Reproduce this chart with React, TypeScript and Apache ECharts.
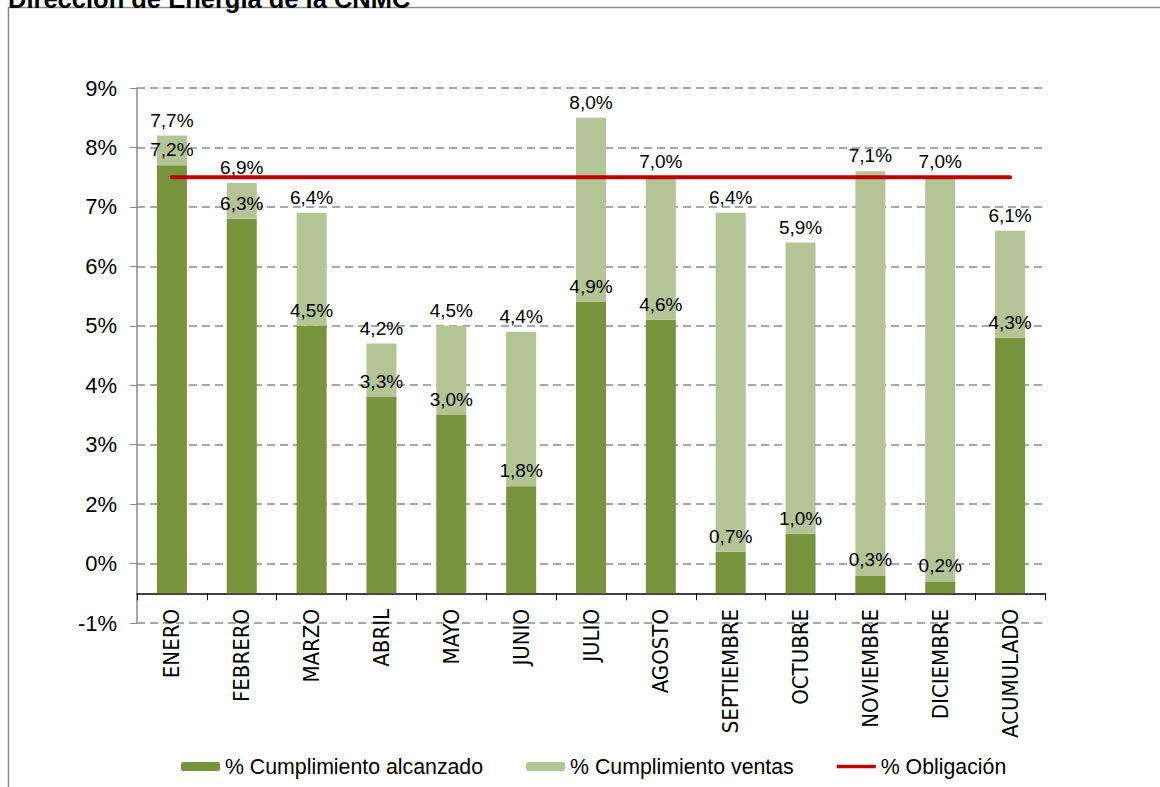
import React, { useEffect, useRef } from "react";
import * as echarts from "echarts";

const categories = ["ENERO", "FEBRERO", "MARZO", "ABRIL", "MAYO", "JUNIO", "JULIO", "AGOSTO", "SEPTIEMBRE", "OCTUBRE", "NOVIEMBRE", "DICIEMBRE", "ACUMULADO"];
const alcanzado = [7.2, 6.3, 4.5, 3.3, 3.0, 1.8, 4.9, 4.6, 0.7, 1.0, 0.3, 0.2, 4.3];
const ventasTotal = [7.7, 6.9, 6.4, 4.2, 4.5, 4.4, 8.0, 7.0, 6.4, 5.9, 7.1, 7.0, 6.1];
const obligacion = [7.0, 7.0, 7.0, 7.0, 7.0, 7.0, 7.0, 7.0, 7.0, 7.0, 7.0, 7.0, 7.0];
const yTickLabels = ["-1%", "0%", "2%", "3%", "4%", "5%", "6%", "7%", "8%", "9%"];

const FONT = "Arial, 'Liberation Sans', sans-serif";
const NARROW = "'Liberation Sans Narrow', 'Arial Narrow', 'DejaVu Sans Condensed', Arial, sans-serif";
const fmt = (v: number) => v.toFixed(1).replace(".", ",") + "%";

export default function App() {
  const ref = useRef<HTMLDivElement>(null);
  useEffect(() => {
    if (!ref.current) return;
    const chart = echarts.init(ref.current, null, { renderer: "svg" });
    const ventasExtra = ventasTotal.map((t, i) => +(t - alcanzado[i]).toFixed(2));
    chart.setOption({
      animation: false,
      backgroundColor: "#ffffff",
      textStyle: { fontFamily: FONT },
      graphic: [
        {
          type: "rect",
          shape: { x: 8.5, y: 7.5, width: 1200, height: 900 },
          style: { fill: "none", stroke: "#8c8c8c", lineWidth: 1.5 },
          silent: true,
        },
        {
          type: "text",
          x: 8,
          y: 12,
          style: {
            text: "Dirección de Energía de la CNMC",
            font: "bold 25.5px " + FONT,
            fill: "#000",
            verticalAlign: "bottom",
          },
        },
      ],
      grid: { left: 137, right: 115, top: 88, bottom: 164 },
      legend: {
        left: 176,
        top: 751,
        itemWidth: 39,
        itemHeight: 9,
        itemGap: 43,
        textStyle: { fontSize: 21.3, color: "#000", fontFamily: FONT },
        data: [
          { name: "% Cumplimiento alcanzado" },
          { name: "% Cumplimiento ventas" },
          { name: "% Obligación", icon: "path://M0,0 L42,0 L42,4 L0,4 Z" },
        ],
      },
      xAxis: {
        type: "category",
        data: categories,
        axisLine: { onZero: true, lineStyle: { color: "#000", width: 1.5 } },
        axisTick: { show: true, length: 7, lineStyle: { color: "#000" } },
        axisLabel: { rotate: 90, fontSize: 22, color: "#000", margin: -14, fontFamily: NARROW },
      },
      yAxis: {
        type: "value",
        min: -0.5,
        max: 8.5,
        interval: 1,
        axisLine: { show: true, lineStyle: { color: "#888", width: 1.5 } },
        axisTick: { show: true, length: 7, lineStyle: { color: "#888" } },
        axisLabel: {
          fontSize: 22,
          color: "#000",
          margin: 20,
          fontFamily: FONT,
          formatter: (v: number) => yTickLabels[Math.round(v + 0.5)] ?? "",
        },
        splitLine: { show: true, lineStyle: { color: "#8c8c8c", type: [8, 5], width: 1.5 } },
      },
      series: [
        {
          name: "% Cumplimiento alcanzado",
          type: "bar",
          stack: "total",
          barWidth: 30,
          data: alcanzado,
          itemStyle: { color: "#77933C" },
          label: {
            show: true,
            position: "top",
            distance: 6,
            fontSize: 19,
            color: "#000",
            fontFamily: FONT,
            formatter: (p: any) => fmt(alcanzado[p.dataIndex]),
          },
        },
        {
          name: "% Cumplimiento ventas",
          type: "bar",
          stack: "total",
          barWidth: 30,
          data: ventasExtra,
          itemStyle: { color: "#B3C594" },
          label: {
            show: true,
            position: "top",
            distance: 6,
            fontSize: 19,
            color: "#000",
            fontFamily: FONT,
            formatter: (p: any) => fmt(ventasTotal[p.dataIndex]),
          },
        },
        {
          name: "% Obligación",
          type: "line",
          data: obligacion,
          symbol: "none",
          lineStyle: { color: "#C00000", width: 4, cap: "round" },
          itemStyle: { color: "#C00000" },
          z: 5,
        },
        {
          name: "obligLabel",
          type: "line",
          data: obligacion.map((v, i) => (i === obligacion.length - 1 ? v : null)),
          symbol: "circle",
          symbolSize: 0.1,
          showSymbol: true,
          lineStyle: { opacity: 0 },
          itemStyle: { color: "#C00000", opacity: 0 },
          label: {
            show: true,
            position: "top",
            distance: 8,
            fontSize: 21,
            fontWeight: "bold",
            color: "#C00000",
            fontFamily: FONT,
            formatter: (p: any) => fmt(p.value),
          },
          silent: true,
          z: 6,
        },
      ],
    });
    return () => chart.dispose();
  }, []);
  return <div ref={ref} style={{ position: "absolute", left: 0, top: 0, width: 1160, height: 787 }} />;
}
